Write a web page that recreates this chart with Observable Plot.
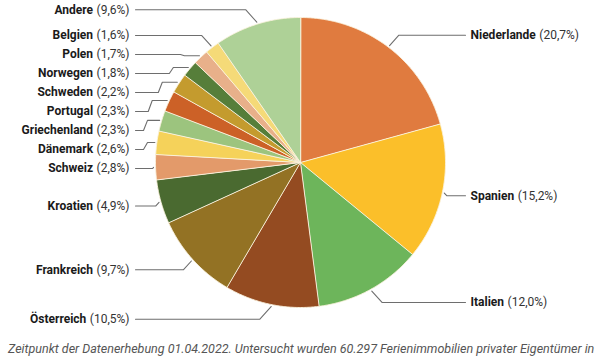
<!DOCTYPE html>
<html><head><meta charset="utf-8">
<script src="https://cdn.jsdelivr.net/npm/d3@7"></script>
<script src="https://cdn.jsdelivr.net/npm/@observablehq/plot@0.6"></script>
<style>
html,body{margin:0;background:#fff;font-family:Roboto,sans-serif;overflow:hidden;}
#caption{font-style:italic;font-size:12.5px;line-height:15px;color:#555;padding:6px 0 0 8px;white-space:nowrap;font-family:Roboto,sans-serif;}
</style></head><body>
<div id="chart"></div>
<div id="caption"></div>
<script>
// ---- data ----
const countries = ["Niederlande","Spanien","Italien","Österreich","Frankreich","Kroatien","Schweiz","Dänemark","Griechenland","Portugal","Schweden","Norwegen","Polen","Belgien","Andere"];
const shares = [20.7,15.2,12.0,10.5,9.7,4.9,2.8,2.6,2.3,2.3,2.2,1.8,1.7,1.6,9.6];
const colors = ["#e07b3f","#fbbf2a","#6db55b","#944b21","#937224","#4a6a30","#e39a6a","#f5d25a","#9cc47e","#cc6127","#c49b2e","#567e3a","#e8b08a","#f5da78","#aed197"];
const captionText = "Zeitpunkt der Datenerhebung 01.04.2022. Untersucht wurden 60.297 Ferienimmobilien privater Eigentümer in";

// ---- layout ----
const W = 600, H = 335;
const cx = 300, cy = 162, r = 145;
const leftX = 135, rightX = 465, gap = 19, fs = 12;

const arcs = d3.pie().sort(null).value(d => d)(shares);
const pt = (a, rad) => ({x: cx + rad * Math.sin(a), y: cy - rad * Math.cos(a)});

// slice polygons
const slicePts = [];
arcs.forEach((a, i) => {
  const n = Math.max(2, Math.ceil((a.endAngle - a.startAngle) / 0.01));
  slicePts.push({name: countries[i], color: colors[i], x: cx, y: cy});
  for (let k = 0; k <= n; k++) {
    const p = pt(a.startAngle + (a.endAngle - a.startAngle) * k / n, r);
    slicePts.push({name: countries[i], color: colors[i], x: p.x, y: p.y});
  }
});

// labels
const fmt = v => "(" + v.toFixed(1).replace(".", ",") + "%)";
const labels = arcs.map((a, i) => {
  const mid = (a.startAngle + a.endAngle) / 2;
  return {name: countries[i], pct: fmt(shares[i]), mid, side: mid < Math.PI ? "right" : "left",
          pref: pt(mid, r + 15).y, x15: pt(mid, r + 15).x};
});
for (const side of ["left", "right"]) {
  const ls = labels.filter(d => d.side === side).sort((a, b) => a.pref - b.pref);
  let prev = -Infinity;
  for (const l of ls) { l.y = Math.max(l.pref, prev + gap); prev = l.y; }
}
// text measurement
const ctx = document.createElement("canvas").getContext("2d");
const measure = (t, bold) => { ctx.font = (bold ? "bold " : "") + fs + "px Roboto"; return ctx.measureText(t).width; };
labels.forEach(l => {
  if (l.side === "left") {
    l.pctX = leftX - 6;
    l.nameX = l.pctX - measure(l.pct, false) - 3.5;
  } else {
    l.nameX = rightX + 5;
    l.pctX = l.nameX + measure(l.name, true) + 3.5;
  }
});

// leader lines
const leaderPts = [];
labels.forEach(l => {
  const dir = l.side === "left" ? -1 : 1;
  const endX = l.side === "left" ? leftX : rightX;
  const a = pt(l.mid, r + 2);
  const pts = [a];
  if (l.y - l.pref > 3) {
    let sx = a.x + dir * 15;
    if (l.side === "left") sx = Math.max(sx, 147);
    pts.push({x: sx, y: a.y}, {x: sx + dir * 4, y: l.y});
  } else {
    const dy = Math.abs(l.y - a.y);
    pts.push({x: a.x + dir * dy * 0.9, y: l.y});
  }
  pts.push({x: endX, y: l.y});
  pts.forEach(p => leaderPts.push({name: l.name, x: p.x, y: p.y}));
});

const L = labels.filter(d => d.side === "left");
const R = labels.filter(d => d.side === "right");
const textOpts = {y: "y", fontSize: fs, fontFamily: "Roboto", lineAnchor: "middle"};

const chart = Plot.plot({
  width: W, height: H, margin: 0,
  style: {fontFamily: "Roboto", background: "#fff", overflow: "visible"},
  x: {domain: [0, W], range: [0, W], axis: null},
  y: {domain: [0, H], range: [0, H], axis: null},
  color: {type: "identity"},
  marks: [
    Plot.line(slicePts, {x: "x", y: "y", z: "name", fill: "color", stroke: "#fbf3df", strokeWidth: 0.9, curve: "linear-closed"}),
    Plot.line(leaderPts, {x: "x", y: "y", z: "name", stroke: "#6e6e6e", strokeWidth: 1.1}),
    Plot.text(L, {...textOpts, x: "pctX", text: "pct", textAnchor: "end", fill: "#333"}),
    Plot.text(L, {...textOpts, x: "nameX", text: "name", textAnchor: "end", fontWeight: "bold", fill: "#1a1a1a"}),
    Plot.text(R, {...textOpts, x: "nameX", text: "name", textAnchor: "start", fontWeight: "bold", fill: "#1a1a1a"}),
    Plot.text(R, {...textOpts, x: "pctX", text: "pct", textAnchor: "start", fill: "#333"})
  ]
});
document.getElementById("chart").appendChild(chart);
document.getElementById("caption").textContent = captionText;
</script>
</body></html>
